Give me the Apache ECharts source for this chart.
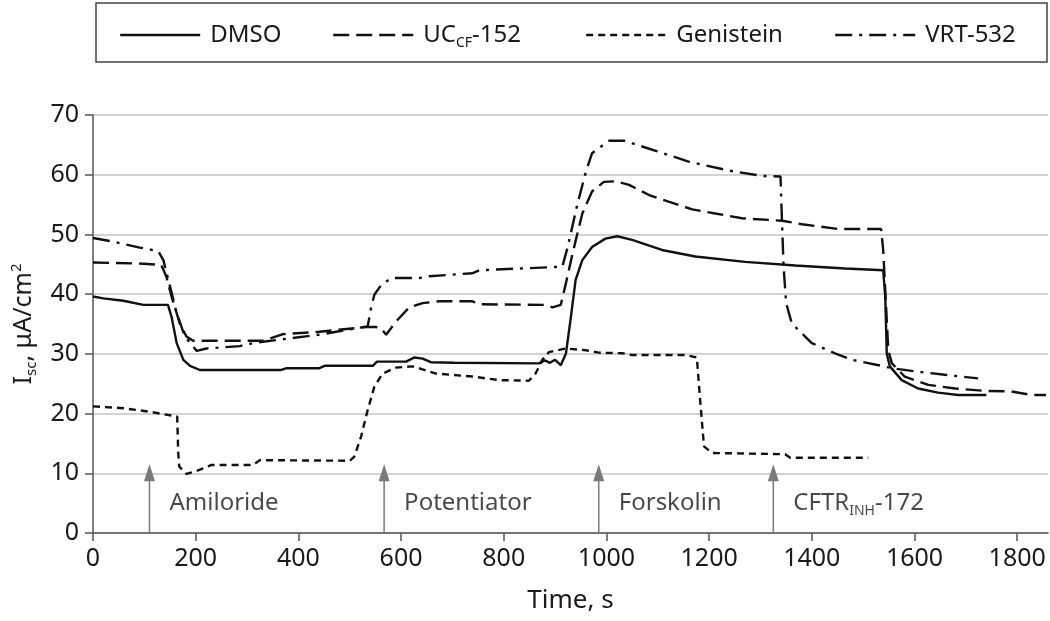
<!DOCTYPE html>
<html>
<head>
<meta charset="utf-8">
<script src="https://cdn.jsdelivr.net/npm/echarts@6/dist/echarts.min.js"></script>
<style>
html,body{margin:0;padding:0;background:#fff;}
#chart{width:1050px;height:621px;}
</style>
</head>
<body>
<div id="chart"></div>
<script>
// ---- data (time in s, Isc in µA/cm2) ----
var dmso = [[0,39.6],[20,39.3],[59,38.9],[98,38.2],[146,38.2],[153,36.2],[163,31.8],[176,29.0],[189,28.0],[208,27.3],[367,27.3],[377,27.6],[441,27.6],[451,28.0],[545,28.0],[553,28.7],[610,28.7],[626,29.4],[642,29.2],[658,28.6],[704,28.5],[707,28.4],[869,28.4],[880,28.9],[890,28.5],[900,29.0],[911,28.1],[921,30],[930,35.7],[940,42.4],[953,45.7],[972,47.9],[998,49.3],[1021,49.7],[1050,49.1],[1108,47.4],[1173,46.3],[1270,45.4],[1368,44.8],[1465,44.3],[1539,44.0],[1543,39.6],[1546,30],[1552,27.9],[1575,25.6],[1607,24.2],[1646,23.5],[1685,23.1],[1740,23.1]];
var uccf152 = [[0,45.3],[98,45.1],[133,44.9],[143,42.9],[153,39.6],[169,35.1],[182,32.9],[195,32.2],[331,32.2],[370,33.3],[441,33.7],[532,34.5],[551,34.5],[561,34.3],[571,33.2],[590,35.4],[616,37.8],[642,38.5],[674,38.8],[739,38.8],[752,38.3],[882,38.2],[895,37.8],[911,38.2],[921,41.8],[934,46.8],[953,53.5],[972,57.2],[995,58.8],[1018,58.9],[1044,58.3],[1083,56.6],[1121,55.5],[1167,54.2],[1212,53.5],[1264,52.7],[1342,52.3],[1381,51.7],[1452,50.9],[1535,50.9],[1539,47.4],[1544,39.0],[1549,30.6],[1556,28.4],[1581,26.2],[1627,24.8],[1679,24.2],[1737,23.8],[1789,23.7],[1828,23.1],[1856,23.1]];
var genistein = [[0,21.2],[59,20.9],[111,20.3],[164,19.5],[166,13.4],[168,11.1],[182,9.9],[202,10.4],[231,11.4],[312,11.4],[325,12.2],[500,12.1],[509,12.8],[522,16.1],[535,20.6],[548,24.5],[564,26.7],[590,27.7],[623,27.9],[642,27.4],[668,26.7],[739,26.2],[791,25.6],[849,25.5],[862,26.7],[875,29.0],[888,30.3],[921,30.9],[960,30.6],[985,30.2],[1031,30.1],[1050,29.8],[1154,29.8],[1176,29.4],[1183,21.7],[1190,14.5],[1206,13.4],[1348,13.2],[1358,12.6],[1510,12.6]];
var vrt532 = [[0,49.4],[39,48.8],[91,47.8],[127,47.2],[137,45.7],[150,41.3],[163,36.8],[179,32.9],[202,30.5],[221,30.9],[286,31.3],[318,31.9],[357,32.3],[448,33.3],[513,34.3],[535,34.6],[542,37.9],[548,39.9],[561,41.5],[581,42.7],[636,42.7],[655,43.0],[739,43.5],[752,44.0],[888,44.5],[914,44.6],[924,47.7],[943,54.9],[960,60.5],[972,63.6],[1005,65.7],[1034,65.7],[1096,64.0],[1160,62.2],[1238,60.7],[1303,59.8],[1339,59.7],[1342,52],[1345,44.6],[1350,38.5],[1361,35.1],[1400,31.8],[1445,30.1],[1478,29.0],[1530,28.1],[1556,27.6],[1607,27.0],[1659,26.5],[1724,25.9]];

var arrowTimes = [110, 567, 985, 1325];
var arrowTop = 11.5;
var arrowLabels = ['Amiloride', 'Potentiator', 'Forskolin', '{m|CFTR}{s|INH}{m|-172}'];
var labelLevel = 5;

var xTicks = [0,200,400,600,800,1000,1200,1400,1600,1800];
var seriesNames = ['DMSO', 'UCCF-152', 'Genistein', 'VRT-532'];

// ---- chart ----
var FONT = '"Noto Sans", "Open Sans", sans-serif';
var TXT = '#1a1a1a';
var chart = echarts.init(document.getElementById('chart'), null, {renderer: 'canvas'});

function lineSeries(name, data, type, width) {
  return {
    name: name, type: 'line', data: data, symbol: 'none', animation: false,
    lineStyle: {color: '#111', width: width || 2.4, type: type, cap: 'butt'},
    itemStyle: {color: '#111'}, z: 3
  };
}

function legendAt(name, left) {
  return {
    data: [name], left: left, top: 18, itemWidth: 80, itemHeight: 14, itemGap: 0,
    itemStyle: {color: 'rgba(0,0,0,0)', borderWidth: 0, opacity: 0},
    lineStyle: {width: 2.4},
    formatter: function (n) { return n === 'UCCF-152' ? '{m|UC}{s|CF}{m|-152}' : '{m|' + n + '}'; },
    textStyle: {
      color: TXT, fontFamily: FONT, fontSize: 24, padding: [0, 0, 0, 5],
      rich: {
        m: {fontFamily: FONT, fontSize: 24, color: TXT, lineHeight: 30, verticalAlign: 'middle'},
        s: {fontFamily: FONT, fontSize: 14, color: TXT, lineHeight: 10, verticalAlign: 'bottom'}
      }
    }
  };
}

var option = {
  backgroundColor: '#fff',
  animation: false,
  grid: {left: 93, right: 2, top: 115, bottom: 88, containLabel: false},
  graphic: [{
    type: 'rect', shape: {x: 96, y: 3, width: 951, height: 59},
    style: {fill: 'none', stroke: '#444', lineWidth: 1.5}, z: 10
  }],
  legend: [
    legendAt('DMSO', 114),
    legendAt('UCCF-152', 327),
    legendAt('Genistein', 580),
    legendAt('VRT-532', 829)
  ],
  xAxis: {
    type: 'value', min: 0, max: 1860, interval: 200,
    name: 'Time, s', nameLocation: 'middle', nameGap: 55,
    nameTextStyle: {color: TXT, fontFamily: FONT, fontSize: 26},
    axisLine: {show: true, onZero: false, lineStyle: {color: '#555', width: 1.5}},
    axisTick: {show: true, length: 8, lineStyle: {color: '#555', width: 1.5}, customValues: xTicks},
    axisLabel: {color: TXT, fontFamily: FONT, fontSize: 25, margin: 13, customValues: xTicks,
      formatter: function (v) { return String(v); }},
    splitLine: {show: false}
  },
  yAxis: {
    type: 'value', min: 0, max: 70, interval: 10,
    name: '{m|I}{s|sc}{m|, μA/cm}{p|2}', nameLocation: 'middle', nameGap: 54, nameRotate: 90,
    nameTextStyle: {
      color: TXT, fontFamily: FONT, fontSize: 24,
      rich: {
        m: {fontFamily: FONT, fontSize: 25, color: TXT, lineHeight: 30, verticalAlign: 'middle'},
        s: {fontFamily: FONT, fontSize: 15, color: TXT, lineHeight: 12, verticalAlign: 'bottom'},
        p: {fontFamily: FONT, fontSize: 15, color: TXT, lineHeight: 12, verticalAlign: 'top'}
      }
    },
    axisLine: {show: true, lineStyle: {color: '#555', width: 1.5}},
    axisTick: {show: true, length: 8, lineStyle: {color: '#555', width: 1.5}},
    axisLabel: {color: TXT, fontFamily: FONT, fontSize: 25, margin: 14},
    splitLine: {show: true, lineStyle: {color: '#d2d2d2', width: 2}}
  },
  series: [
    lineSeries('DMSO', dmso, 'solid', 2.4),
    lineSeries('UCCF-152', uccf152, [16, 7], 2.4),
    lineSeries('Genistein', genistein, [7, 5], 2.4),
    lineSeries('VRT-532', vrt532, [17, 7, 3, 7], 2.4),
    {
      name: 'arrows', type: 'custom', animation: false, z: 2, silent: true,
      data: arrowTimes.map(function (t) { return [t, 0, arrowTop]; }),
      renderItem: function (params, api) {
        var base = api.coord([api.value(0), api.value(1)]);
        var tip = api.coord([api.value(0), api.value(2)]);
        var headH = 17, headW = 11;
        return {
          type: 'group',
          children: [
            {type: 'line', shape: {x1: base[0], y1: base[1], x2: tip[0], y2: tip[1] + headH - 2},
             style: {stroke: '#7a7a7a', lineWidth: 1.5}},
            {type: 'polygon', shape: {points: [[tip[0], tip[1]], [tip[0] - headW / 2, tip[1] + headH], [tip[0] + headW / 2, tip[1] + headH]]},
             style: {fill: '#7a7a7a'}}
          ]
        };
      }
    },
    {
      name: 'arrowLabels', type: 'scatter', animation: false, silent: true,
      symbolSize: 0,
      data: arrowTimes.map(function (t) { return [t, labelLevel]; }),
      label: {
        show: true, position: 'right', distance: 20,
        formatter: function (p) { var s = arrowLabels[p.dataIndex]; return s.indexOf('{') === 0 ? s : '{m|' + s + '}'; },
        rich: {
          m: {fontFamily: FONT, fontSize: 24, color: TXT, lineHeight: 30, verticalAlign: 'middle'},
          s: {fontFamily: FONT, fontSize: 14, color: TXT, lineHeight: 10, verticalAlign: 'bottom'}
        }
      }
    }
  ]
};
chart.setOption(option);
</script>
</body>
</html>
